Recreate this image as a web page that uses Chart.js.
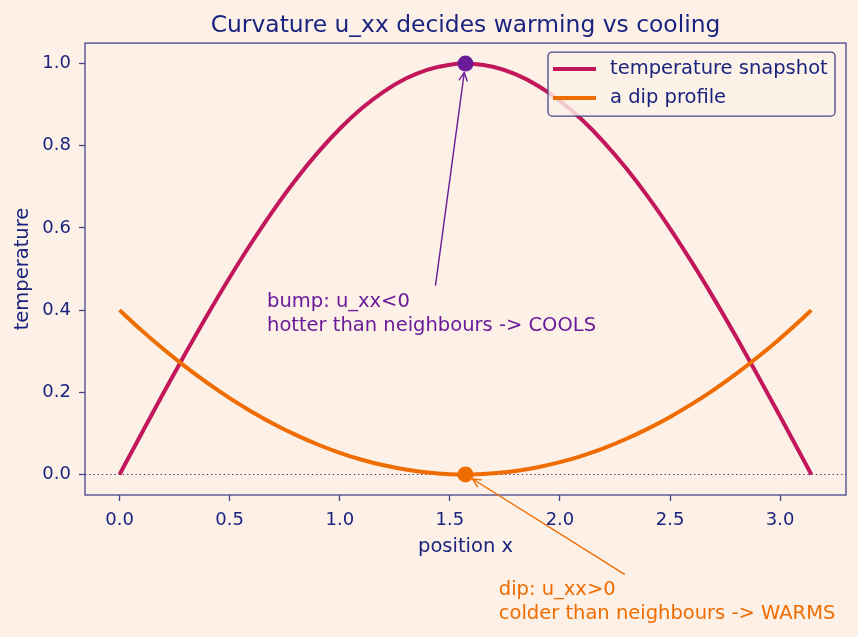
<!DOCTYPE html>
<html><head><meta charset="utf-8">
<script src="https://cdn.jsdelivr.net/npm/chart.js@4.4.0/dist/chart.umd.min.js"></script>
<style>html,body{margin:0;padding:0;background:#fdf1e7;}canvas{display:block;}</style>
</head><body>
<canvas id="c" width="858" height="637"></canvas>
<script>
// ---- data ----
const positions = [0,0.1,0.2,0.3,0.4,0.5,0.6,0.7,0.8,0.9,1.0,1.1,1.2,1.3,1.4,1.5,1.5708,1.6,1.7,1.8,1.9,2.0,2.1,2.2,2.3,2.4,2.5,2.6,2.7,2.8,2.9,3.0,3.1,3.1416];
const snapshotTemps = [0,0.0998,0.1987,0.2955,0.3894,0.4794,0.5646,0.6442,0.7174,0.7833,0.8415,0.8912,0.9320,0.9636,0.9854,0.9975,1.0,0.9996,0.9917,0.9738,0.9463,0.9093,0.8632,0.8085,0.7457,0.6755,0.5985,0.5155,0.4274,0.3350,0.2392,0.1411,0.0416,0];
const dipTemps = [0.4,0.3507,0.3046,0.2618,0.2222,0.1859,0.1528,0.1229,0.0963,0.0729,0.0528,0.0359,0.0223,0.0119,0.0047,0.0008,0,0.0001,0.0027,0.0085,0.0176,0.0299,0.0454,0.0642,0.0862,0.1115,0.1400,0.1717,0.2067,0.2449,0.2864,0.3312,0.3791,0.4];
const bumpPoint = {x:1.5708, y:1.0};
const dipPoint = {x:1.5708, y:0.0};
const seriesNames = ['temperature snapshot','a dip profile'];
const xTickValues = [0,0.5,1.0,1.5,2.0,2.5,3.0];
const yTickValues = [0,0.2,0.4,0.6,0.8,1.0];
const titleText = 'Curvature u_xx decides warming vs cooling';
const xTitle = 'position x';
const yTitle = 'temperature';
const bumpNote = ['bump: u_xx<0','hotter than neighbours -> COOLS'];
const dipNote = ['dip: u_xx>0','colder than neighbours -> WARMS'];

// ---- styles ----
const FONT = "'DejaVu Sans', sans-serif";
const NAVY = '#1a237e';
const SPINE = '#45458c';
const BG = '#fdf1e7';
const RED = '#c2185b';
const ORANGE = '#ef6c00';
const PURPLE = '#6a1b9a';
Chart.defaults.font.family = FONT;
Chart.defaults.color = NAVY;

function pts(xs, ys){ return xs.map((x,i)=>({x:x, y:ys[i]})); }

function drawArrow(ctx, x0, y0, x1, y1, color, shrink){
  const dx = x1-x0, dy = y1-y0, L = Math.hypot(dx,dy);
  const ux = dx/L, uy = dy/L;
  const tx = x1 - ux*shrink, ty = y1 - uy*shrink;
  ctx.save();
  ctx.strokeStyle = color; ctx.lineWidth = 1.4; ctx.lineCap='round'; ctx.lineJoin='round';
  ctx.beginPath(); ctx.moveTo(x0,y0); ctx.lineTo(tx,ty); ctx.stroke();
  const hl = 8, hw = 4;
  const bx = tx - ux*hl, by = ty - uy*hl;
  ctx.beginPath();
  ctx.moveTo(bx - uy*hw, by + ux*hw);
  ctx.lineTo(tx, ty);
  ctx.lineTo(bx + uy*hw, by - ux*hw);
  ctx.stroke();
  ctx.restore();
}

const decor = {
  id:'decor',
  beforeDraw(c){
    const ctx=c.ctx; ctx.save(); ctx.fillStyle=BG; ctx.fillRect(0,0,c.width,c.height); ctx.restore();
  },
  beforeDatasetsDraw(c){
    const ctx=c.ctx, a=c.chartArea, y=c.scales.y.getPixelForValue(0);
    ctx.save();
    ctx.strokeStyle='#43387f'; ctx.lineWidth=1.1; ctx.setLineDash([1.4,2.8]);
    ctx.beginPath(); ctx.moveTo(a.left,y); ctx.lineTo(a.right,y); ctx.stroke();
    ctx.restore();
  },
  afterDraw(c){
    const ctx=c.ctx, a=c.chartArea, xs=c.scales.x, ys=c.scales.y;
    // spines
    ctx.save();
    ctx.strokeStyle=SPINE; ctx.lineWidth=1.3;
    ctx.strokeRect(a.left, a.top, a.right-a.left, a.bottom-a.top);
    ctx.restore();
    // legend
    const L = a.right-298, T = a.top+9, W = 287, H = 64;
    ctx.save();
    ctx.beginPath();
    ctx.roundRect(L, T, W, H, 4);
    ctx.fillStyle='rgba(253,241,231,0.82)'; ctx.fill();
    ctx.strokeStyle=SPINE; ctx.lineWidth=1.3; ctx.stroke();
    const cols=[RED, ORANGE];
    ctx.font = "19.5px "+FONT; ctx.textBaseline='middle'; ctx.textAlign='left';
    for(let i=0;i<2;i++){
      const yy = T + 17 + i*29;
      ctx.strokeStyle=cols[i]; ctx.lineWidth=4; ctx.lineCap='butt';
      ctx.beginPath(); ctx.moveTo(L+5,yy); ctx.lineTo(L+48,yy); ctx.stroke();
      ctx.fillStyle=NAVY; ctx.fillText(seriesNames[i], L+62, yy);
    }
    ctx.restore();
    // annotations
    ctx.save();
    ctx.font = "19.5px "+FONT; ctx.textBaseline='middle'; ctx.textAlign='left';
    ctx.fillStyle=PURPLE;
    const bx = xs.getPixelForValue(0.6697), by = ys.getPixelForValue(0.4200);
    bumpNote.forEach((t,i)=>ctx.fillText(t, bx, by+i*24));
    ctx.fillStyle=ORANGE;
    const dx = xs.getPixelForValue(1.722), dy = ys.getPixelForValue(-0.282);
    dipNote.forEach((t,i)=>ctx.fillText(t, dx, dy+i*24));
    ctx.restore();
    drawArrow(ctx, xs.getPixelForValue(1.435), ys.getPixelForValue(0.461),
      xs.getPixelForValue(bumpPoint.x), ys.getPixelForValue(bumpPoint.y), PURPLE, 9);
    drawArrow(ctx, xs.getPixelForValue(2.292), ys.getPixelForValue(-0.2427),
      xs.getPixelForValue(dipPoint.x), ys.getPixelForValue(dipPoint.y), ORANGE, 8.5);
  }
};

const tickGrid = {display:true, drawOnChartArea:false, drawTicks:true, tickLength:6, tickColor:SPINE, tickWidth:1.3};

new Chart(document.getElementById('c'), {
  type:'scatter',
  data:{ datasets:[
    {label:'bump', data:[bumpPoint], pointRadius:8, pointHoverRadius:8, backgroundColor:PURPLE, borderWidth:0, order:0},
    {label:'dip', data:[dipPoint], pointRadius:8, pointHoverRadius:8, backgroundColor:ORANGE, borderWidth:0, order:0},
    {label:seriesNames[1], data:pts(positions, dipTemps), showLine:true, borderColor:ORANGE, borderWidth:4, pointRadius:0, cubicInterpolationMode:'monotone', order:1},
    {label:seriesNames[0], data:pts(positions, snapshotTemps), showLine:true, borderColor:RED, borderWidth:4, pointRadius:0, cubicInterpolationMode:'monotone', order:2}
  ]},
  options:{
    responsive:false, animation:false,
    layout:{padding:{left:0,right:12,top:0,bottom:0}},
    plugins:{
      legend:{display:false}, tooltip:{enabled:false},
      title:{display:true, text:titleText, fullSize:false, color:NAVY, font:{size:23.4, weight:'normal', family:FONT}, padding:{top:12,bottom:3}}
    },
    scales:{
      x:{type:'linear', min:-0.157, max:3.299,
        afterBuildTicks(s){ s.ticks = xTickValues.map(v=>({value:v})); },
        afterFit(s){ s.height = 142; },
        ticks:{callback:v=>Number(v).toFixed(1), color:NAVY, font:{size:18}, padding:9, maxRotation:0, autoSkip:false},
        grid:tickGrid, border:{display:false},
        title:{display:true, text:xTitle, color:NAVY, font:{size:19.5}, padding:{top:0,bottom:78}}
      },
      y:{type:'linear', min:-0.05, max:1.05,
        afterBuildTicks(s){ s.ticks = yTickValues.map(v=>({value:v})); },
        afterFit(s){ s.width = 85; },
        ticks:{callback:v=>Number(v).toFixed(1), color:NAVY, font:{size:18}, padding:8, autoSkip:false},
        grid:tickGrid, border:{display:false},
        title:{display:true, text:yTitle, color:NAVY, font:{size:19.5}, padding:{top:11,bottom:0}}
      }
    }
  },
  plugins:[decor]
});
</script>
</body></html>
